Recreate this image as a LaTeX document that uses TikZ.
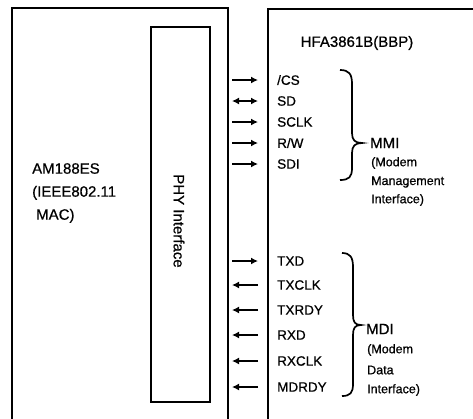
\documentclass[tikz,border=0pt]{standalone}
\usepackage{fontspec}
\setmainfont{Liberation Sans}[FakeBold=0.7]
\usetikzlibrary{arrows.meta}
\begin{document}
\begin{tikzpicture}[x=1pt,y=-1pt,
  boxline/.style={line width=1.8pt},
  sig/.style={line width=1.8pt,-{Latex[length=7pt,width=7pt]}},
  sigboth/.style={line width=1.8pt,{Latex[length=7pt,width=7pt]}-{Latex[length=7pt,width=7pt]}},
  lbl/.style={anchor=west,inner sep=0pt,font=\fontsize{13.5}{15}\selectfont},
  big/.style={inner sep=0pt,font=\fontsize{15}{23}\selectfont},
  small/.style={anchor=west,inner sep=0pt,font=\fontsize{12.5}{14}\selectfont},
  brace/.style={line width=1.7pt}]
\useasboundingbox (0,0) rectangle (473,418);
% left block
\draw[boxline] (12,420) -- (12,8) -- (228,8) -- (228,420);
\draw[boxline] (151,27) rectangle (210,402);
\node[big,rotate=-90] (phy) at (179,221) {PHY Interface};
\node[big,anchor=west,align=left] (mac) at (32,193) {AM188ES\\(IEEE802.11\\\hspace{4pt}MAC)};
% right block
\draw[boxline] (268,420) -- (268,9) -- (475,9);
\node[big] (title) at (357,43) {HFA3861B(BBP)};
% MMI signals
\node[lbl] (cs) at (277,80) {/CS};
\node[lbl] (sd) at (277,101) {SD};
\node[lbl] (sclk) at (277,122) {SCLK};
\node[lbl] (rw) at (277,143) {R/W};
\node[lbl] (sdi) at (277,164) {SDI};
\foreach \n/\y in {cs/80, sd/101, sclk/122, rw/143, sdi/164}{
  \coordinate (\n-a) at (232,\y);
  \coordinate (\n-b) at (258,\y);
}
\draw[sig] (cs-a) -- (cs-b);
\draw[sigboth] (sd-a) -- (sd-b);
\draw[sig] (sclk-a) -- (sclk-b);
\draw[sig] (rw-a) -- (rw-b);
\draw[sig] (sdi-a) -- (sdi-b);
% MMI brace
\draw[brace] (340,70) .. controls (349,70) and (352,74) .. (352,84) -- (352,133)
  .. controls (352,140) and (355,143) .. (362,143)
  .. controls (355,143) and (352,146) .. (352,153) -- (352,168)
  .. controls (352,177) and (349,180) .. (340,180);
\node[big,anchor=west] (mmi) at (370,143) {MMI};
\node[small] (mmi1) at (371,163) {(Modem};
\node[small] (mmi2) at (371,182) {Management};
\node[small] (mmi3) at (371,200) {Interface)};
% MDI signals
\node[lbl] (txd) at (277,261) {TXD};
\node[lbl] (txclk) at (277,285) {TXCLK};
\node[lbl] (txrdy) at (277,310) {TXRDY};
\node[lbl] (rxd) at (277,335) {RXD};
\node[lbl] (rxclk) at (277,361) {RXCLK};
\node[lbl] (mdrdy) at (277,387) {MDRDY};
\foreach \n/\y in {txd/261, txclk/285, txrdy/310, rxd/335, rxclk/361, mdrdy/387}{
  \coordinate (\n-a) at (232,\y);
  \coordinate (\n-b) at (258,\y);
}
\draw[sig] (txd-a) -- (txd-b);
\draw[sig] (txclk-b) -- (txclk-a);
\draw[sig] (txrdy-b) -- (txrdy-a);
\draw[sig] (rxd-b) -- (rxd-a);
\draw[sig] (rxclk-b) -- (rxclk-a);
\draw[sig] (mdrdy-b) -- (mdrdy-a);
% MDI brace
\draw[brace] (342,253) .. controls (350,253) and (353,257) .. (353,267) -- (353,315)
  .. controls (353,322) and (355,325) .. (361,325)
  .. controls (355,325) and (353,328) .. (353,335) -- (353,384)
  .. controls (353,393) and (350,396) .. (342,396);
\node[big,anchor=west] (mdi) at (366,329) {MDI};
\node[small] (mdi1) at (367,350) {(Modem};
\node[small] (mdi2) at (367,370) {Data};
\node[small] (mdi3) at (367,390) {Interface)};
\end{tikzpicture}
\end{document}
